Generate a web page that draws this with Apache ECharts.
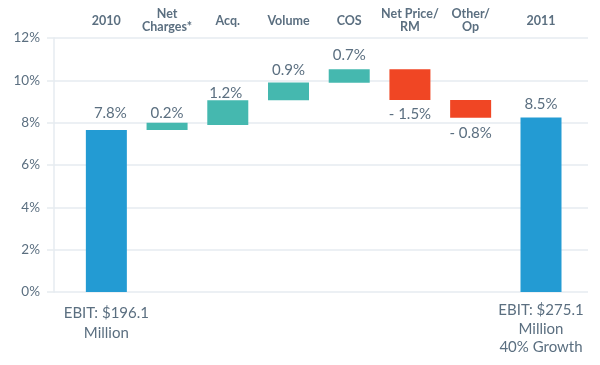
<!DOCTYPE html>
<html>
<head>
<meta charset="utf-8">
<script src="https://cdn.jsdelivr.net/npm/echarts@6/dist/echarts.min.js"></script>
<style>html,body{margin:0;padding:0;background:#fff}#c{width:600px;height:365px}</style>
</head>
<body>
<div id="c"></div>
<script>
const categories = ['2010', 'Net\nCharges*', 'Acq.', 'Volume', 'COS', 'Net Price/\nRM', 'Other/\nOp', '2011'];
const barLow  = [0,    7.65, 7.89, 9.06, 9.89, 9.07,  8.23, 0];
const barHigh = [7.65, 8.0,  9.06, 9.9,  10.52, 10.52, 9.07, 8.25];
const valueLabels = ['7.8%', '0.2%', '1.2%', '0.9%', '0.7%', '- 1.5%', '- 0.8%', '8.5%'];
const kinds = ['total', 'up', 'up', 'up', 'up', 'down', 'down', 'total'];
const footLabels = ['EBIT: $196.1\nMillion', '', '', '', '', '', '', 'EBIT: $275.1\nMillion\n40% Growth'];
const yMin = 0, yMax = 12, yStep = 2;

const colors = { total: '#239bd3', up: '#45b8af', down: '#f04624' };
const textColor = '#5b6f80';
const gridColor = '#e6ebf0';
const font = 'Lato';
// label placement tweaks (style only)
const labelDistance = [9, 2, 0, 5, 7, 7, 8, 6];
const labelShiftX = [4, 0, -2, 0, 0, 0, 0, 0];

const chart = echarts.init(document.getElementById('c'), null, { renderer: 'canvas' });

function topAxis(gi, data) {
  return {
    gridIndex: gi, type: 'category', position: 'top', data: data,
    axisLine: { show: false }, axisTick: { show: false }, splitLine: { show: false },
    axisLabel: { interval: 0, margin: 17.5, verticalAlign: 'middle', color: textColor,
      fontFamily: font, fontWeight: 'bold', fontSize: 12.5, lineHeight: 13 }
  };
}
function bottomAxis(gi, data, lh, margin) {
  return {
    gridIndex: gi, type: 'category', position: 'bottom', data: data,
    axisLine: { show: false }, axisTick: { show: false }, splitLine: { show: false },
    axisLabel: { interval: 0, margin: margin, verticalAlign: 'top', color: textColor,
      fontFamily: font, fontSize: 15, lineHeight: lh }
  };
}
function makeSeries(idx, xi, yi) {
  const base = idx.map(i => barLow[i]);
  const val = idx.map(i => ({
    value: +(barHigh[i] - barLow[i]).toFixed(3),
    itemStyle: { color: colors[kinds[i]] },
    label: {
      show: true,
      position: kinds[i] === 'down' ? 'bottom' : 'top',
      distance: labelDistance[i],
      offset: [labelShiftX[i], 0],
      formatter: () => valueLabels[i]
    }
  }));
  return [
    { type: 'bar', xAxisIndex: xi, yAxisIndex: yi, stack: 'w' + xi, barWidth: 41,
      itemStyle: { color: 'transparent' }, data: base, silent: true },
    { type: 'bar', xAxisIndex: xi, yAxisIndex: yi, stack: 'w' + xi, barWidth: 41,
      label: { color: textColor, fontFamily: font, fontSize: 15 },
      data: val }
  ];
}

const option = {
  animation: false,
  backgroundColor: '#fff',
  grid: [
    { left: 54, right: 12, top: 38, bottom: 73 },
    { left: 76, right: 99, top: 38, bottom: 73 },
    { left: 511, right: 29, top: 38, bottom: 73 }
  ],
  xAxis: [
    { gridIndex: 0, type: 'value', show: false, min: 0, max: 1 },
    topAxis(1, categories.slice(0, 7)),
    bottomAxis(1, footLabels.slice(0, 7), 20, 11),
    topAxis(2, categories.slice(7)),
    bottomAxis(2, footLabels.slice(7), 18.5, 9)
  ],
  yAxis: [
    { gridIndex: 0, type: 'value', min: yMin, max: yMax, interval: yStep,
      axisLine: { show: true, lineStyle: { color: gridColor, width: 1.5 } },
      axisTick: { show: true, length: 7, lineStyle: { color: gridColor, width: 1.5 } },
      splitLine: { show: true, lineStyle: { color: gridColor, width: 1.5 } },
      axisLabel: { formatter: '{value}%', margin: 14, color: textColor, fontFamily: font, fontSize: 13.5 } },
    { gridIndex: 1, type: 'value', min: yMin, max: yMax, show: false },
    { gridIndex: 2, type: 'value', min: yMin, max: yMax, show: false }
  ],
  series: [
    ...makeSeries([0, 1, 2, 3, 4, 5, 6], 1, 1),
    ...makeSeries([7], 3, 2)
  ]
};
chart.setOption(option);
</script>
</body>
</html>
